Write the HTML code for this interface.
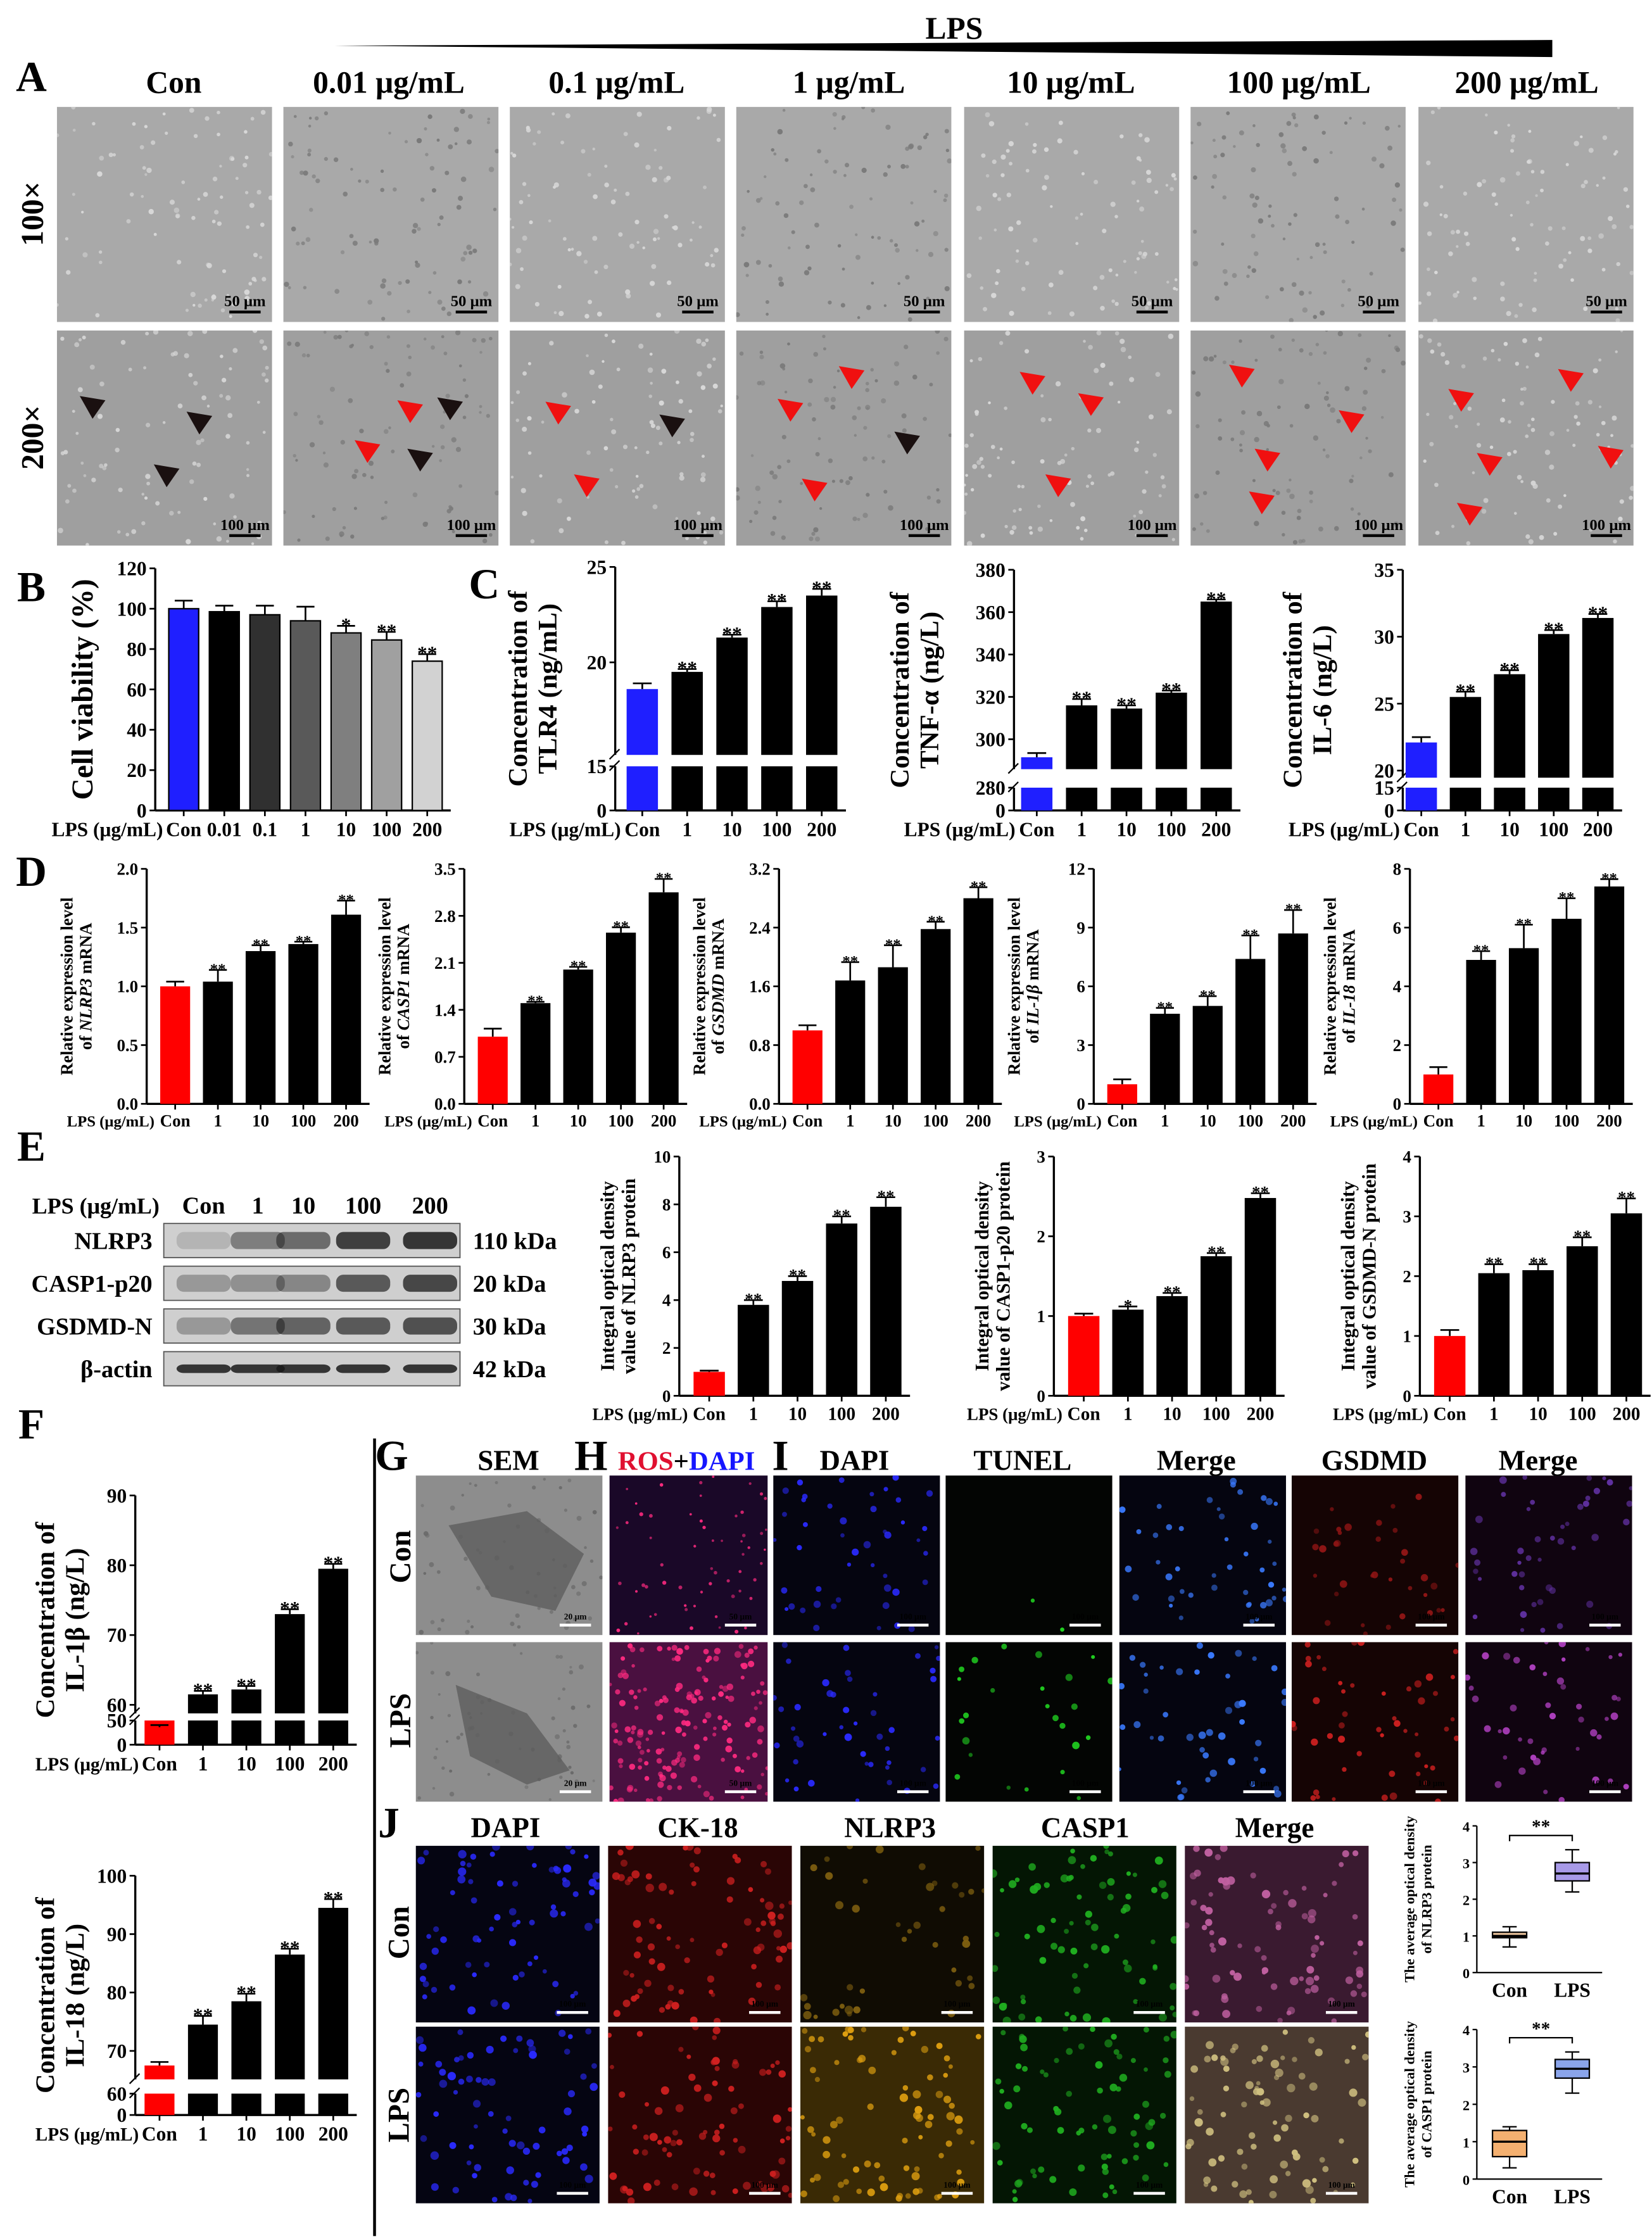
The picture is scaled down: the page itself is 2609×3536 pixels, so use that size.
<!DOCTYPE html>
<html><head><meta charset="utf-8"><style>
html,body{margin:0;padding:0;background:#fff}
svg{display:block}
text{font-family:"Liberation Serif",serif;font-weight:bold;fill:#000}
</style></head><body>
<svg id="fig" xmlns="http://www.w3.org/2000/svg" width="2609" height="3536" viewBox="0 0 1160 1572"><defs id="defs"></defs></svg>
<script>
// ---------- DATA ----------
const bCats=["Con","0.01","0.1","1","10","100","200"];
const bVals=[100,98.5,97,94,88,84.5,74];
const bErrs=[4,3,4.5,7,3.5,4,3.5];
const bSig=["","","","","*","**","**"];
const cCats=["Con","1","10","100","200"];
const tlr4Vals=[18.6,19.5,21.3,22.9,23.5];
const tlr4Errs=[0.3,0.15,0.15,0.3,0.35];
const tnfVals=[291.5,316,314.5,322,365];
const tnfErrs=[2,3,1.5,1,1];
const il6Vals=[22.1,25.5,27.2,30.2,31.4];
const il6Errs=[0.4,0.4,0.3,0.3,0.3];
const cSig=["","**","**","**","**"];
const nlrp3mVals=[1.0,1.04,1.3,1.36,1.61];
const nlrp3mErrs=[0.04,0.1,0.05,0.02,0.12];
const casp1mVals=[1.0,1.5,2.0,2.55,3.15];
const casp1mErrs=[0.12,0.02,0.04,0.08,0.2];
const gsdmdmVals=[1.0,1.68,1.86,2.38,2.8];
const gsdmdmErrs=[0.07,0.25,0.3,0.1,0.15];
const il1bmVals=[1.0,4.6,5.0,7.4,8.7];
const il1bmErrs=[0.25,0.3,0.5,1.2,1.2];
const il18mVals=[1.0,4.9,5.3,6.3,7.4];
const il18mErrs=[0.25,0.3,0.8,0.7,0.25];
const nlrp3pVals=[1.0,3.8,4.8,7.2,7.9];
const nlrp3pErrs=[0.05,0.2,0.2,0.3,0.4];
const casp1pVals=[1.0,1.08,1.25,1.75,2.48];
const casp1pErrs=[0.03,0.04,0.04,0.04,0.06];
const gsdmdpVals=[1.0,2.05,2.1,2.5,3.05];
const gsdmdpErrs=[0.1,0.15,0.1,0.15,0.25];
const eSig=["","**","**","**","**"];
const casp1pSig=["","*","**","**","**"];
const il1bVals=[56.8,61.5,62.2,73,79.5];
const il1bErrs=[0.3,0.5,0.5,0.7,0.7];
const il18Vals=[67.5,74.5,78.5,86.5,94.5];
const il18Errs=[0.6,1.5,1.3,1,1.5];
const blotLanes=["Con","1","10","100","200"];
const nlrp3Band=[0.15,0.45,0.55,0.8,0.85];
const casp1Band=[0.3,0.35,0.4,0.65,0.75];
const gsdmdBand=[0.3,0.5,0.6,0.65,0.7];
const actinBand=[0.85,0.85,0.85,0.85,0.85];
const boxCats=["Con","LPS"];
const boxNlrp3=[[0.7,0.95,1.0,1.1,1.25],[2.2,2.5,2.7,3.0,3.35]];
const boxCasp1=[[0.3,0.6,1.0,1.3,1.4],[2.3,2.7,2.95,3.2,3.4]];

// ---------- HELPERS ----------
const svg=document.getElementById('fig');
const defs=document.getElementById('defs');
const NS='http://www.w3.org/2000/svg';
function mk(tag,attrs,parent){const e=document.createElementNS(NS,tag);for(const k in attrs)e.setAttribute(k,attrs[k]);(parent||svg).appendChild(e);return e;}
function txt(x,y,s,fs,anchor,extra,parent){const e=mk('text',Object.assign({x:x,y:y,'font-size':fs,'text-anchor':anchor||'middle'},extra||{}),parent);e.textContent=s;return e;}
function grp(name){const g=mk('g',{});

return g;}

// seeded generator for image texture only (not chart data)
let seed=7;function rnd(){seed=(seed*16807)%2147483647;return seed/2147483647;}
let clipN=0;
function photo(name,x,y,w,h,bg,dotCol,n,r,scale,sbText){
 const g=grp(name);
 const cid='clip'+(clipN++);
 const cp=mk('clipPath',{id:cid},defs);mk('rect',{x:x,y:y,width:w,height:h},cp);
 mk('rect',{x:x,y:y,width:w,height:h,fill:bg},g);
 const dg=mk('g',{'clip-path':'url(#'+cid+')'},g);
 for(let i=0;i<n;i++){mk('circle',{cx:x+rnd()*w,cy:y+rnd()*h,r:r*(0.6+0.6*rnd()),fill:dotCol,opacity:0.5+0.5*rnd()},dg);}
 if(sbText){mk('line',{x1:x+w-30,x2:x+w-8,y1:y+h-7,y2:y+h-7,stroke:scale,'stroke-width':2},g);
 txt(x+w-19,y+h-11,sbText,scale==='#000'?11:6,'middle',{fill:scale},g);}
 return g;
}

// ---------- CHART ----------
function chart(c){
 const g=grp(c.name);
 const yf=c.y;
 const ax=mk('line',{x1:c.ax,x2:c.ax,y1:c.yTop,y2:c.yBot,stroke:'#000','stroke-width':1.5},g);
 
 const xEnd=c.x0+c.step*(c.vals.length-1)+c.bw/2+6;
 const bl=mk('line',{x1:c.ax,x2:xEnd,y1:c.yBot,y2:c.yBot,stroke:'#000','stroke-width':1.5},g);
 
 if(c.brk){
  mk('rect',{x:c.ax-3,y:c.brk.gTop,width:xEnd-c.ax+6,height:c.brk.gBot-c.brk.gTop,fill:'#fff'},g);
  mk('line',{x1:c.ax-4,x2:c.ax+3,y1:c.brk.gTop+3,y2:c.brk.gTop-4,stroke:'#000','stroke-width':1},g);
  mk('line',{x1:c.ax-4,x2:c.ax+3,y1:c.brk.gBot+3,y2:c.brk.gBot-4,stroke:'#000','stroke-width':1},g);
 }
 c.ticks.forEach(t=>{const y=yf(t);
  mk('line',{x1:c.ax-4,x2:c.ax,y1:y,y2:y,stroke:'#000','stroke-width':1.2},g);
  const tl=txt(c.ax-6,y+c.fs*0.35,c.dec!==undefined?t.toFixed(c.dec):String(t),c.fs,'end',{},g);
  
 });
 c.vals.forEach((v,i)=>{
  const cx=c.x0+i*c.step, col=c.cols[i];
  if(c.brk){
   const r1=mk('rect',{x:cx-c.bw/2,y:c.brk.gBot,width:c.bw,height:c.yBot-c.brk.gBot,fill:col,stroke:'#000','stroke-width':c.stroke||0},g);
   
   const r2=mk('rect',{x:cx-c.bw/2,y:yf(v),width:c.bw,height:c.brk.gTop-yf(v),fill:col,stroke:'#000','stroke-width':c.stroke||0},g);
   
  } else {
   const r=mk('rect',{x:cx-c.bw/2,y:yf(v),width:c.bw,height:c.yBot-yf(v),fill:col,stroke:'#000','stroke-width':c.stroke||0},g);
   
  }
  const ye=yf(v+c.errs[i]);
  mk('line',{x1:cx,x2:cx,y1:yf(v),y2:ye,stroke:'#000','stroke-width':1.2},g);
  mk('line',{x1:cx-c.bw*0.3,x2:cx+c.bw*0.3,y1:ye,y2:ye,stroke:'#000','stroke-width':1.2},g);
  if(c.sig[i]){const s=txt(cx,ye-2+c.sfs*0.45,c.sig[i],c.sfs,'middle',{},g);
   }
  mk('line',{x1:cx,x2:cx,y1:c.yBot,y2:c.yBot+4,stroke:'#000','stroke-width':1.2},g);
  const xl=txt(cx,c.yBot+c.xfs+4,c.cats[i],c.xfs,'middle',{},g);
  
 });
 const lp=txt(c.x0-c.bw/2-4,c.yBot+c.xfs+4,'LPS (μg/mL)',c.lfs||c.xfs,'end',{'font-weight':'normal'},g);
 
 c.ylab.forEach((L,k)=>{
  const t=mk('text',{x:0,y:0,'font-size':c.yfs,'text-anchor':'middle',transform:`translate(${c.ylx+k*c.yfs*1.1},${(c.yTop+c.yBot)/2}) rotate(-90)`},g);
  
  L.forEach(p=>{const ts=document.createElementNS(NS,'tspan');ts.textContent=p[0];if(p[1])ts.setAttribute('font-style','italic');t.appendChild(ts);});
 });
 return g;
}
function lin(v1,y1,v2,y2){return v=>y1+(v-v1)*(y2-y1)/(v2-v1);}
function brkY(a,low,yBot,gBot){return v=>v>low?a(v):yBot-(v/low)*(yBot-gBot);}

// ---------- TITLE / LPS wedge ----------
txt(670,27,'LPS',22,'middle');
mk('polygon',{points:'235,32 1090,28 1090,40'},svg);
const letters=[['A',22,64],['B',22,422],['C',340,420],['D',22,622],['E',22,815],['F',22,1010],['G',275,1032],['H',415,1032],['I',548,1032],['J',273,1290]];
letters.forEach(L=>{const t=txt(L[1],L[2],L[0],30,'middle');});
const heads=[['Con',122],['0.01 μg/mL',273],['0.1 μg/mL',433],['1 μg/mL',596],['10 μg/mL',752],['100 μg/mL',912],['200 μg/mL',1072]];
heads.forEach(h=>txt(h[1],65,h[0],22,'middle'));
const colX=[40,199,358,517,677,836,996];
[['100×',150,75,'50 μm'],['200×',307,232,'100 μm']].forEach(r=>{
 const t=txt(0,0,r[0],22,'middle',{transform:`translate(30,${r[1]}) rotate(-90)`});
 
 colX.forEach((x,i)=>photo('micrograph-'+r[0]+'-'+i,x,r[2],151,151,r[0]==='100×'?'#a9a9a9':'#9f9f9f',i%2?'#7a7a7a':'#d8d8d8',90,1.6,'#000',r[3]));
});
const arrows=[[65,285,0],[140,296,0],[117,333,0],[288,288,1],[258,316,1],[316,286,0],[295,322,0],[392,289,1],[412,340,1],[472,298,0],[555,287,1],[598,264,1],[572,343,1],[637,310,0],[725,268,1],[766,283,1],[743,340,1],[872,263,1],[949,295,1],[890,322,1],[886,352,1],[1026,280,1],[1103,266,1],[1046,325,1],[1131,320,1],[1032,360,1]];
arrows.forEach(a=>{const p=mk('polygon',{points:`${a[0]-9},${a[1]-7} ${a[0]+9},${a[1]-4} ${a[0]},${a[1]+9}`,fill:a[2]?'#f01010':'#1a1010'});});

// ---------- B ----------
chart({name:'chart-cell-viability',ax:109,yTop:399,yBot:569,y:lin(0,569,120,399),ticks:[0,20,40,60,80,100,120],
 cats:bCats,vals:bVals,errs:bErrs,sig:bSig,cols:['#1f1fff','#000','#303030','#595959','#7f7f7f','#a0a0a0','#d2d2d2'],
 x0:129,step:28.5,bw:21,stroke:1,fs:14,sfs:14,xfs:14,yfs:21,ylx:65,ylab:[[['Cell viability (%)']]]});
// ---------- C ----------
const cCols=['#1f1fff','#000','#000','#000','#000'];
let a=lin(25,398,20,465);
chart({name:'chart-tlr4',ax:432,yTop:398,yBot:569,y:brkY(a,15,569,538),brk:{gTop:530,gBot:538},ticks:[0,15,20,25],
 cats:cCats,vals:tlr4Vals,errs:tlr4Errs,sig:cSig,cols:cCols,x0:451,step:31.5,bw:22,fs:14,sfs:14,xfs:14,yfs:19,ylx:370,ylab:[[['Concentration of']],[['TLR4 (ng/mL)']]]});
a=lin(380,400,300,519);
chart({name:'chart-tnf-alpha',ax:712,yTop:400,yBot:569,y:brkY(a,280,569,553),brk:{gTop:540,gBot:553},ticks:[0,280,300,320,340,360,380],
 cats:cCats,vals:tnfVals,errs:tnfErrs,sig:cSig,cols:cCols,x0:728,step:31.5,bw:22,fs:14,sfs:14,xfs:14,yfs:19,ylx:638,ylab:[[['Concentration of']],[['TNF-α (ng/L)']]]});
a=lin(35,400,20,541);
chart({name:'chart-il6',ax:985,yTop:400,yBot:569,y:brkY(a,15,569,553),brk:{gTop:546,gBot:553},ticks:[0,15,20,25,30,35],
 cats:cCats,vals:il6Vals,errs:il6Errs,sig:cSig,cols:cCols,x0:998,step:31,bw:22,fs:14,sfs:14,xfs:14,yfs:19,ylx:914,ylab:[[['Concentration of']],[['IL-6 (ng/L)']]]});
// ---------- D ----------
const dCols=['#ff0000','#000','#000','#000','#000'];
const dSets=[
 ['chart-nlrp3-mrna',103,2.0,[0,0.5,1.0,1.5,2.0],nlrp3mVals,nlrp3mErrs,'NLRP3',1],
 ['chart-casp1-mrna',326,3.5,[0,0.7,1.4,2.1,2.8,3.5],casp1mVals,casp1mErrs,'CASP1',1],
 ['chart-gsdmd-mrna',547,3.2,[0,0.8,1.6,2.4,3.2],gsdmdmVals,gsdmdmErrs,'GSDMD',1],
 ['chart-il1b-mrna',768,12,[0,3,6,9,12],il1bmVals,il1bmErrs,'IL-1β',0],
 ['chart-il18-mrna',990,8,[0,2,4,6,8],il18mVals,il18mErrs,'IL-18',0]];
dSets.forEach(d=>{
 chart({name:d[0],ax:d[1],yTop:610,yBot:775,y:lin(0,775,d[2],610),ticks:d[3],dec:d[7],cats:cCats,vals:d[4],errs:d[5],sig:cSig,cols:dCols,
 x0:d[1]+20,step:30,bw:21,fs:12,sfs:11,xfs:12,lfs:11,yfs:12,ylx:d[1]-52,ylab:[[['Relative expression level']],[['of '],[d[6],1],[' mRNA']]]});
});
// ---------- E blot ----------
(function(){const g=grp('western-blot');
 txt(112,852,'LPS (μg/mL)',16,'end',{'font-weight':'normal'},g);
 const lx=[143,181,213,255,302];
 blotLanes.forEach((l,i)=>txt(lx[i],852,l,17,'middle',{},g));
 const rows=[['NLRP3',859,nlrp3Band,'110 kDa'],['CASP1-p20',889,casp1Band,'20 kDa'],['GSDMD-N',919,gsdmdBand,'30 kDa'],['β-actin',949,actinBand,'42 kDa']];
 rows.forEach(r=>{
  mk('rect',{x:115,y:r[1],width:208,height:24,fill:'#cfcfcf',stroke:'#555','stroke-width':0.8},g);
  r[2].forEach((o,i)=>{const b=mk('rect',{x:lx[i]-19,y:r[1]+(r[0]==='β-actin'?9:6),width:38,height:r[0]==='β-actin'?6:12,rx:5,fill:'#1a1a1a',opacity:o},g);});
  txt(107,r[1]+18,r[0],17,'end',{},g);
  txt(332,r[1]+18,r[3],17,'start',{},g);
 });
})();
const eSets=[
 ['chart-nlrp3-protein',477,10,[0,2,4,6,8,10],nlrp3pVals,nlrp3pErrs,eSig,'NLRP3'],
 ['chart-casp1p20-protein',740,3,[0,1,2,3],casp1pVals,casp1pErrs,casp1pSig,'CASP1-p20'],
 ['chart-gsdmdn-protein',997,4,[0,1,2,3,4],gsdmdpVals,gsdmdpErrs,eSig,'GSDMD-N']];
eSets.forEach(d=>{
 chart({name:d[0],ax:d[1],yTop:812,yBot:980,y:lin(0,980,d[2],812),ticks:d[3],cats:cCats,vals:d[4],errs:d[5],sig:d[6],cols:dCols,
 x0:d[1]+21,step:31,bw:22,fs:12,sfs:12,xfs:13,lfs:12,yfs:13.5,ylx:d[1]-46,ylab:[[['Integral optical density']],[['value of '+d[7]+' protein']]]});
});
// ---------- F ----------
a=lin(90,1050,60,1197);
chart({name:'chart-il1b-conc',ax:95,yTop:1050,yBot:1225,y:brkY(a,50,1225,1208),brk:{gTop:1203,gBot:1208},ticks:[0,50,60,70,80,90],
 cats:cCats,vals:il1bVals,errs:il1bErrs,sig:cSig,cols:dCols,x0:112,step:30.5,bw:21,fs:14,sfs:14,xfs:14,lfs:13,yfs:19,ylx:38,ylab:[[['Concentration of']],[['IL-1β (ng/L)']]]});
a=lin(100,1317,70,1440);
chart({name:'chart-il18-conc',ax:95,yTop:1317,yBot:1485,y:brkY(a,60,1485,1470),brk:{gTop:1460,gBot:1470},ticks:[0,60,70,80,90,100],
 cats:cCats,vals:il18Vals,errs:il18Errs,sig:cSig,cols:dCols,x0:112,step:30.5,bw:21,fs:14,sfs:14,xfs:14,lfs:13,yfs:19,ylx:38,ylab:[[['Concentration of']],[['IL-18 (ng/L)']]]});

// ---------- G/H/I ----------
mk('line',{x1:263,x2:263,y1:1010,y2:1570,stroke:'#000','stroke-width':2});
[['SEM',357,'#000'],['ROS',455,'#e01030'],['DAPI',600,'#1515ff'],['TUNEL',718,'#10b010'],['Merge',840,'#1515ff'],['GSDMD',965,'#e01010'],['Merge',1080,'#1515ff']].forEach(h=>{
 if(h[0]==='ROS'){const t=txt(482,1032,'',19,'middle');const s1=document.createElementNS(NS,'tspan');s1.textContent='ROS';s1.setAttribute('fill','#e01030');const s2=document.createElementNS(NS,'tspan');s2.textContent='+';s2.setAttribute('fill','#000');const s3=document.createElementNS(NS,'tspan');s3.textContent='DAPI';s3.setAttribute('fill','#1515ff');t.append(s1,s2,s3);}
 else txt(h[1],1032,h[0],20,'middle',{fill:h[2]});
});
[['Con',1093,1036],['LPS',1208,1153]].forEach((r,ri)=>{
 txt(0,0,r[0],21,'middle',{transform:`translate(288,${r[1]}) rotate(-90)`});
 photo('sem-'+r[0],292,r[2],131,112,'#8d8d8d','#6a6a6a',60,1.5,'#fff','20 μm');
 mk('path',{d:ri?`M320,${r[2]+30} l50,20 l30,40 l-30,10 l-40,-20 z`:`M315,${r[2]+35} l55,-10 l40,30 l-20,40 l-45,-10 z`,fill:'#5e5e5e',opacity:0.8});
 photo('ros-'+r[0],428,r[2],111,112,ri?'#4a1040':'#1a0828','#ff2a80',ri?160:60,ri?2:1.2,'#fff','50 μm');
 const fl=[['dapi','#050510','#2a2aff',45],['tunel','#030503','#20d020',ri?25:2],['merge-tunel','#050510','#3a7aff',45],['gsdmd','#150404',ri?'#d02020':'#901515',ri?50:35],['merge-gsdmd','#100410',ri?'#b040c0':'#6030a0',45]];
 [543,664,786,907,1029].forEach((x,k)=>photo(fl[k][0]+'-'+r[0],x,r[2],117,112,fl[k][1],fl[k][2],fl[k][3],2.2,'#fff','100 μm'));
});
// ---------- J ----------
[['DAPI',355,'#1515ff'],['CK-18',490,'#e01010'],['NLRP3',625,'#f0a000'],['CASP1',762,'#10a010'],['Merge',895,'#000']].forEach(h=>txt(h[1],1290,h[0],20,'middle',{fill:h[2]}));
[['Con',1357,1296],['LPS',1485,1423]].forEach((r,ri)=>{
 txt(0,0,r[0],21,'middle',{transform:`translate(287,${r[1]}) rotate(-90)`});
 const fl=[['dapi','#050512','#2a2aff',70],['ck18','#2a0505','#d02020',80],['nlrp3',ri?'#3a2a05':'#100c03',ri?'#e0a010':'#806010',ri?80:40],['casp1','#041604','#20b020',75],['merge',ri?'#4a3a30':'#3a1a30',ri?'#d0c080':'#c060a0',80]];
 [292,427,562,697,832].forEach((x,k)=>photo('j-'+fl[k][0]+'-'+r[0],x,r[2],129,124,fl[k][1],fl[k][2],fl[k][3],2.5,'#fff','100 μm'));
});
// ---------- boxplots ----------
function box(name,data,yTop,yBot,lab,cols){
 const g=grp(name);const y=lin(0,yBot,4,yTop);const ax=1037;
 mk('line',{x1:ax,x2:ax,y1:yTop,y2:yBot,stroke:'#000'},g);
 mk('line',{x1:ax,x2:1125,y1:yBot,y2:yBot,stroke:'#000'},g);
 [0,1,2,3,4].forEach(t=>{mk('line',{x1:ax-3,x2:ax,y1:y(t),y2:y(t),stroke:'#000'},g);txt(ax-5,y(t)+4,String(t),10,'end',{},g);});
 const xs=[1060,1104];
 data.forEach((d,i)=>{const x=xs[i];
  mk('line',{x1:x,x2:x,y1:y(d[0]),y2:y(d[4]),stroke:'#000'},g);
  [0,4].forEach(k=>mk('line',{x1:x-5,x2:x+5,y1:y(d[k]),y2:y(d[k]),stroke:'#000'},g));
  const b=mk('rect',{x:x-12,y:y(d[3]),width:24,height:y(d[1])-y(d[3]),fill:cols[i],stroke:'#000'},g);
  
  mk('line',{x1:x-12,x2:x+12,y1:y(d[2]),y2:y(d[2]),stroke:'#000','stroke-width':1.5},g);
  txt(x,yBot+17,boxCats[i],14,'middle',{},g);
 });
 const by=y(Math.max(data[0][4],data[1][4]))-10;
 mk('path',{d:`M1060,${by+4}V${by}H1104V${by+4}`,fill:'none',stroke:'#000'},g);
 txt(1082,by-2,'**',13,'middle',{},g);
 [['The average optical density'],['of '+lab+' protein']].forEach((L,k)=>txt(0,0,L[0],10,'middle',{transform:`translate(${993+k*12},${(yTop+yBot)/2}) rotate(-90)`},g));
}
box('boxplot-nlrp3',boxNlrp3,1282,1385,'NLRP3',['#f3c9a0','#a89ae8']);
box('boxplot-casp1',boxCasp1,1425,1530,'CASP1',['#f4b070','#8aa4ea']);
</script>
</body></html>
